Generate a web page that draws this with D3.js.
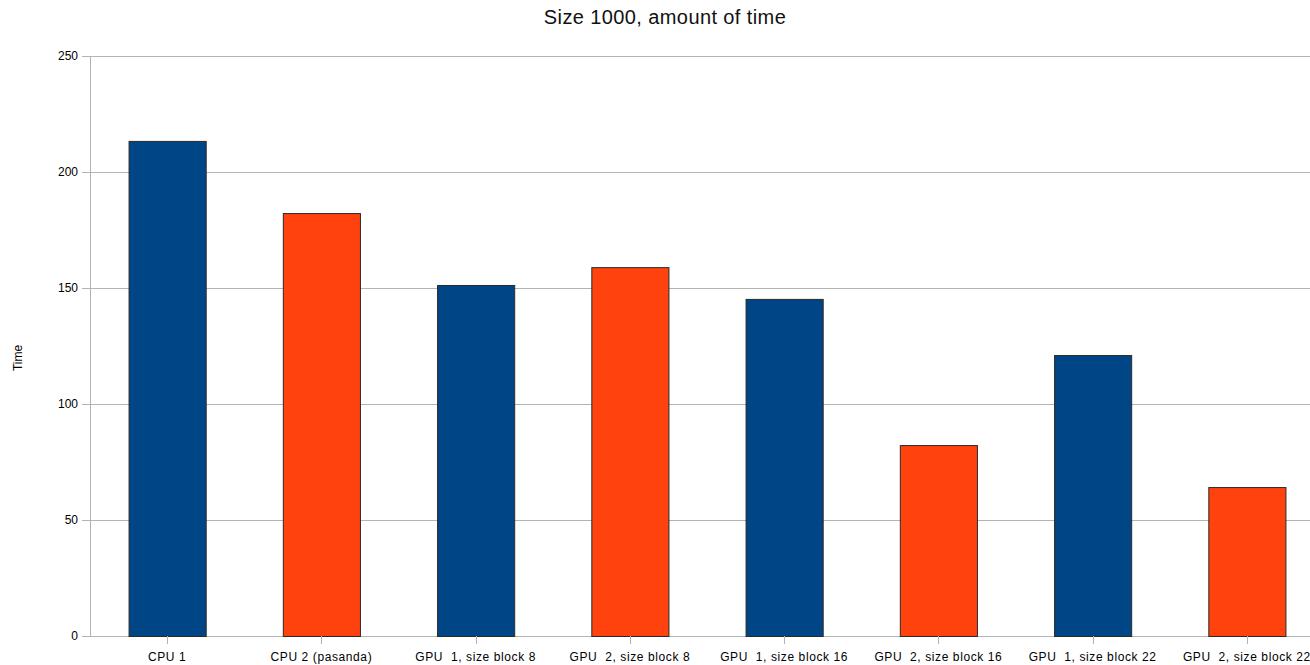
<!DOCTYPE html>
<html><head><meta charset="utf-8">
<script src="https://cdn.jsdelivr.net/npm/d3@7"></script>
<style>body{margin:0;background:#fff;} svg{display:block;} text{font-family:"Liberation Sans",Arial,sans-serif;}</style>
</head><body>
<svg id="c" width="1310" height="665"></svg>
<script>
const categories = ["CPU 1","CPU 2 (pasanda)","GPU  1, size block 8","GPU  2, size block 8","GPU  1, size block 16","GPU  2, size block 16","GPU  1, size block 22","GPU  2, size block 22"];
const values = [213.4, 182.3, 151.3, 159.0, 145.3, 82.3, 121.1, 64.2];
const barColors = ["#004586","#ff420e","#004586","#ff420e","#004586","#ff420e","#004586","#ff420e"];
const yTicks = [0, 50, 100, 150, 200, 250];

const svg = d3.select("#c");
const L = 90, R = 1324, T = 56, B = 636;
const x = d3.scaleBand().domain(categories).range([L, R]).paddingInner(0.5).paddingOuter(0.25);
const y = d3.scaleLinear().domain([0, 250]).range([B, T]);

// grid
svg.append("g").selectAll("line").data(yTicks).join("line")
  .attr("x1", L - 8).attr("x2", 1310).attr("y1", d => y(d)+0.5).attr("y2", d => y(d)+0.5)
  .attr("stroke", "#b3b3b3").attr("stroke-width", 1);
svg.append("line").attr("x1", L+0.5).attr("x2", L+0.5).attr("y1", T).attr("y2", B)
  .attr("stroke", "#b3b3b3");

svg.append("g").selectAll("text").data(yTicks).join("text")
  .attr("x", L - 12).attr("y", d => y(d) + 4).attr("text-anchor", "end")
  .attr("font-size", 12).attr("fill", "#000").text(d => d);

// bars
svg.append("g").selectAll("rect").data(values).join("rect")
  .attr("x", (d,i) => x(categories[i]) + 0.5)
  .attr("y", d => y(d) + 0.5)
  .attr("width", x.bandwidth())
  .attr("height", d => B - y(d))
  .attr("fill", (d,i) => barColors[i])
  .attr("stroke", "#2a2a2a").attr("stroke-width", 1);

// x ticks
svg.append("g").selectAll("line").data(categories).join("line")
  .attr("x1", d => Math.round(x(d) + x.bandwidth()/2)+0.5).attr("x2", d => Math.round(x(d) + x.bandwidth()/2)+0.5)
  .attr("y1", B).attr("y2", B + 8).attr("stroke", "#b3b3b3");
svg.append("g").selectAll("text").data(categories).join("text")
  .attr("x", d => x(d) + x.bandwidth()/2).attr("y", B + 25)
  .attr("text-anchor", "middle").attr("font-size", 12).attr("fill", "#000")
  .attr("letter-spacing", "0.6px")
  .style("white-space", "pre").text(d => d);

// title
svg.append("text").attr("x", 665).attr("y", 24).attr("text-anchor", "middle")
  .attr("font-size", 20).attr("letter-spacing", "0.4px").attr("fill", "#111").text("Size 1000, amount of time");

// y label
svg.append("text").attr("transform", "translate(22,358) rotate(-90)")
  .attr("text-anchor", "middle").attr("font-size", 12).attr("fill", "#000").text("Time");
</script>
</body></html>
